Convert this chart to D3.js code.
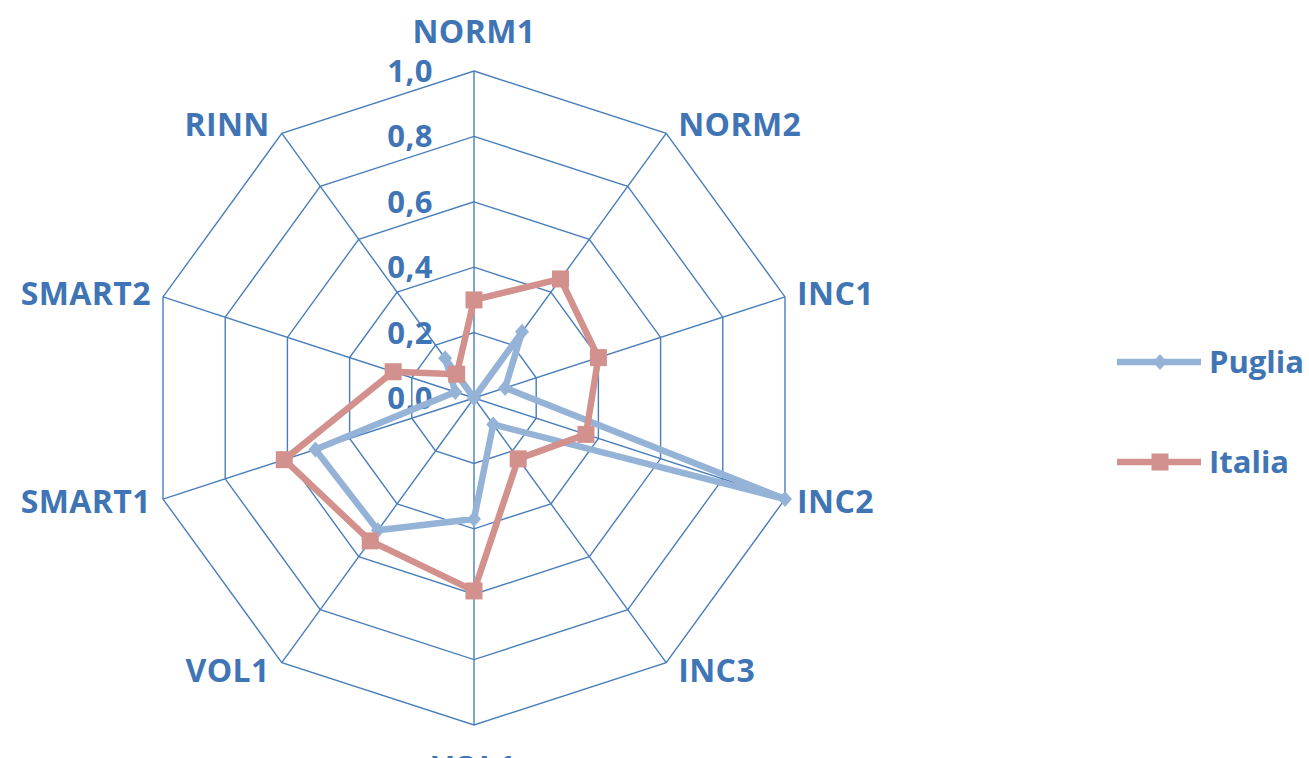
<!DOCTYPE html>
<html>
<head>
<meta charset="utf-8">
<script src="https://cdn.jsdelivr.net/npm/d3@7"></script>
<style>
  html, body { margin: 0; padding: 0; background: #fff; }
  svg { display: block; }
  text { font-family: 'Open Sans', sans-serif; font-weight: bold; fill: #3f74b5; }
</style>
</head>
<body>
<svg width="1309" height="758"></svg>
<script>
// data
const categories = ['NORM1', 'NORM2', 'INC1', 'INC2', 'INC3', 'VOL1', 'VOL1', 'SMART1', 'SMART2', 'RINN']
const puglia = [0.0, 0.25, 0.10, 1.0, 0.10, 0.37, 0.50, 0.51, 0.06, 0.15]
const italia = [0.30, 0.45, 0.40, 0.36, 0.23, 0.59, 0.54, 0.61, 0.26, 0.09]
const ticks = [0, 0.2, 0.4, 0.6, 0.8, 1.0]
const seriesNames = ['Puglia', 'Italia']

const cx = 474, cy = 398
const gridColor = '#4a7ebb'
const colors = { Puglia: '#95b3d7', Italia: '#d3918d' }

const svg = d3.select('svg')
const n = categories.length
const angle = d3.scaleLinear().domain([0, n]).range([0, 2 * Math.PI])
const r = d3.scaleLinear().domain([0, 1]).range([0, 327])
const fmt = v => d3.format('.1f')(v).replace('.', ',')
const pt = (i, v) => [cx + r(v) * Math.sin(angle(i)), cy - r(v) * Math.cos(angle(i))]

const g = svg.append('g')

// decagon rings
const ring = d3.lineRadial()
	.angle((d, i) => angle(i))
	.radius(d => r(d))
	.curve(d3.curveLinearClosed)
g.selectAll('path.ring')
	.data(ticks.filter(t => t > 0))
	.enter().append('path')
	.attr('class', 'ring')
	.attr('transform', `translate(${[cx, cy]})`)
	.attr('d', t => ring(d3.range(n).map(() => t)))
	.attr('fill', 'none')
	.attr('stroke', gridColor)
	.attr('stroke-width', 1.4)

// spokes
g.selectAll('line.spoke')
	.data(d3.range(n))
	.enter().append('line')
	.attr('class', 'spoke')
	.attr('x1', cx).attr('y1', cy)
	.attr('x2', i => pt(i, 1)[0])
	.attr('y2', i => pt(i, 1)[1])
	.attr('stroke', gridColor)
	.attr('stroke-width', 1.4)

// tick labels
g.selectAll('text.tick')
	.data(ticks)
	.enter().append('text')
	.attr('class', 'tick')
	.attr('x', 433)
	.attr('y', t => cy - r(t) + 11)
	.attr('text-anchor', 'end')
	.attr('font-size', 31)
	.attr('letter-spacing', 0.5)
	.text(fmt)

// category labels
g.selectAll('text.cat')
	.data(categories)
	.enter().append('text')
	.attr('class', 'cat')
	.attr('font-size', 32)
	.attr('letter-spacing', 0.4)
	.each(function (d, i) {
		const [x, y] = pt(i, 1)
		const s = Math.sin(angle(i)), c = Math.cos(angle(i))
		const sel = d3.select(this)
		if (Math.abs(s) < 0.01) {
			sel.attr('text-anchor', 'middle').attr('x', x)
				.attr('y', c > 0 ? y - 28 : y + 54)
		} else {
			sel.attr('text-anchor', s > 0 ? 'start' : 'end')
				.attr('x', x + (s > 0 ? 12 : -12))
				.attr('y', y + 11 - 11 * c)
		}
	})
	.text(d => d)

// series lines
const line = d3.lineRadial()
	.angle((d, i) => angle(i))
	.radius(d => r(d))
	.curve(d3.curveLinearClosed)

const series = [{ name: 'Puglia', values: puglia }, { name: 'Italia', values: italia }]
const sg = g.selectAll('g.series')
	.data(series)
	.enter().append('g')
	.attr('class', 'series')
	.attr('transform', `translate(${[cx, cy]})`)
sg.append('path')
	.attr('d', d => line(d.values))
	.attr('fill', 'none')
	.attr('stroke', d => colors[d.name])
	.attr('stroke-width', 6.5)
	.attr('stroke-linejoin', 'round')

const marker = (sel, name) => {
	if (name === 'Puglia') {
		sel.append('path')
			.attr('d', 'M0,-8L7,0L0,8L-7,0Z')
			.attr('fill', colors.Puglia)
	} else {
		sel.append('rect')
			.attr('x', -8.5).attr('y', -8.5)
			.attr('width', 17).attr('height', 17)
			.attr('fill', colors.Italia)
	}
}
sg.each(function (d) {
	const self = d3.select(this)
	d.values.forEach((v, i) => {
		const m = self.append('g')
			.attr('transform', `translate(${[r(v) * Math.sin(angle(i)), -r(v) * Math.cos(angle(i))]})`)
		marker(m, d.name)
	})
})

// legend
const legend = svg.selectAll('g.legend')
	.data(seriesNames)
	.enter().append('g')
	.attr('class', 'legend')
	.attr('transform', (d, i) => `translate(${[1117, 362 + i * 100]})`)
legend.append('line')
	.attr('x1', 0).attr('x2', 84)
	.attr('stroke', d => colors[d])
	.attr('stroke-width', 6.5)
legend.each(function (d) {
	const m = d3.select(this).append('g').attr('transform', 'translate(43,0)')
	marker(m, d)
})
legend.append('text')
	.attr('x', 92)
	.attr('y', 11)
	.attr('font-size', 31)
	.text(d => d)
</script>
</body>
</html>
